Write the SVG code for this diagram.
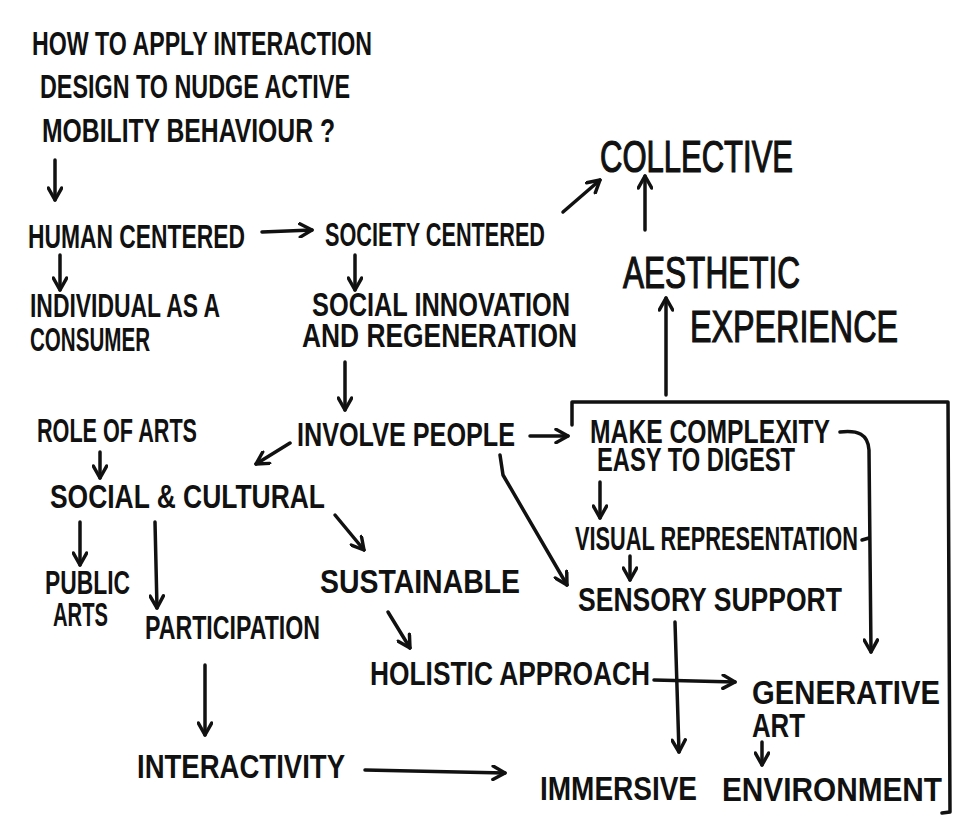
<svg xmlns="http://www.w3.org/2000/svg" width="975" height="818" viewBox="0 0 975 818">
  <style>
    .t { font-family: "Liberation Sans", "DejaVu Sans", sans-serif; font-weight: 700; font-size: 34px; fill: #111; }
    .big { font-weight: 400; font-size: 44px; stroke: #111; stroke-width: 1.2; }
    .ln { fill: none; stroke: #111; stroke-width: 3.5; stroke-linecap: round; stroke-linejoin: round; }
    .arr { marker-end: url(#head); }
  </style>
  <defs>
    <marker id="head" viewBox="0 0 12 12" refX="10.5" refY="6" markerWidth="16" markerHeight="16" markerUnits="userSpaceOnUse" orient="auto">
      <path d="M1.5,1 L10.5,6 L1.5,11" fill="none" stroke="#111" stroke-width="2.6" stroke-linecap="round" stroke-linejoin="round"/>
    </marker>
  </defs>
  <rect width="975" height="818" fill="#fff"/>

  <!-- connectors -->
  <g id="connectors">
    <path class="ln arr" d="M55,160 L55,200"/>
    <path class="ln arr" d="M262,232 L312,230"/>
    <path class="ln arr" d="M563,212 L600,180"/>
    <path class="ln arr" d="M645,230 L645,176"/>
    <path class="ln arr" d="M666,395 L666,298"/>
    <path class="ln arr" d="M60,255 L60,290"/>
    <path class="ln arr" d="M355,255 L355,290"/>
    <path class="ln arr" d="M345,362 L345,410"/>
    <path class="ln arr" d="M530,436 L568,436"/>
    <!-- frame around the design principles -->
    <path class="ln" d="M572,425 L572,402 L948,402 L950,812 L942,813"/>
    <path class="ln arr" d="M840,432 C858,430 868,434 869,450 L871,652"/>
    <path class="ln arr" d="M600,482 L600,518"/>
    <path class="ln" d="M862,540 L869,538"/>
    <path class="ln arr" d="M630,556 L630,580"/>
    <path class="ln arr" d="M675,622 L679,752"/>
    <path class="ln arr" d="M500,455 L503,475 L567,585"/>
    <path class="ln arr" d="M290,443 L256,464"/>
    <path class="ln arr" d="M100,452 L100,478"/>
    <path class="ln arr" d="M80,522 L80,565"/>
    <path class="ln arr" d="M155,522 L157,608"/>
    <path class="ln arr" d="M335,515 L364,550"/>
    <path class="ln arr" d="M388,612 L410,648"/>
    <path class="ln arr" d="M654,680 L735,682"/>
    <path class="ln arr" d="M762,742 L762,765"/>
    <path class="ln arr" d="M205,665 L205,735"/>
    <path class="ln arr" d="M365,770 L505,773"/>
  </g>

  <g id="question">
    <text class="t" x="32" y="55" font-size="34" textLength="340" lengthAdjust="spacingAndGlyphs">HOW TO APPLY INTERACTION</text>
    <text class="t" x="40" y="98" font-size="32" textLength="310" lengthAdjust="spacingAndGlyphs">DESIGN TO NUDGE ACTIVE</text>
    <text class="t" x="42" y="142" font-size="32" textLength="293" lengthAdjust="spacingAndGlyphs">MOBILITY BEHAVIOUR ?</text>
  </g>
  <g id="human-centered">
    <text class="t" x="28" y="248" textLength="217" lengthAdjust="spacingAndGlyphs">HUMAN CENTERED</text>
  </g>
  <g id="society-centered">
    <text class="t" x="325" y="246" textLength="220" lengthAdjust="spacingAndGlyphs">SOCIETY CENTERED</text>
  </g>
  <g id="collective">
    <text class="t big" x="600" y="172" textLength="193" lengthAdjust="spacingAndGlyphs">COLLECTIVE</text>
  </g>
  <g id="aesthetic-experience">
    <text class="t big" x="623" y="288" textLength="177" lengthAdjust="spacingAndGlyphs">AESTHETIC</text>
    <text class="t big" x="690" y="342" textLength="208" lengthAdjust="spacingAndGlyphs">EXPERIENCE</text>
  </g>
  <g id="individual-consumer">
    <text class="t" x="30" y="317" font-size="27" textLength="190" lengthAdjust="spacingAndGlyphs">INDIVIDUAL AS A</text>
    <text class="t" x="30" y="351" font-size="27" textLength="120" lengthAdjust="spacingAndGlyphs">CONSUMER</text>
  </g>
  <g id="social-innovation">
    <text class="t" x="312" y="316" font-size="26" textLength="258" lengthAdjust="spacingAndGlyphs">SOCIAL INNOVATION</text>
    <text class="t" x="302" y="347" font-size="26" textLength="275" lengthAdjust="spacingAndGlyphs">AND REGENERATION</text>
  </g>
  <g id="role-of-arts">
    <text class="t" x="37" y="442" font-size="30" textLength="160" lengthAdjust="spacingAndGlyphs">ROLE OF ARTS</text>
  </g>
  <g id="involve-people">
    <text class="t" x="297" y="446" font-size="30" textLength="218" lengthAdjust="spacingAndGlyphs">INVOLVE PEOPLE</text>
  </g>
  <g id="make-complexity">
    <text class="t" x="590" y="443" font-size="26" textLength="240" lengthAdjust="spacingAndGlyphs">MAKE COMPLEXITY</text>
    <text class="t" x="597" y="471" font-size="25" textLength="198" lengthAdjust="spacingAndGlyphs">EASY TO DIGEST</text>
  </g>
  <g id="visual-representation">
    <text class="t" x="575" y="550" font-size="27" textLength="283" lengthAdjust="spacingAndGlyphs">VISUAL REPRESENTATION</text>
  </g>
  <g id="sensory-support">
    <text class="t" x="578" y="611" font-size="32" textLength="264" lengthAdjust="spacingAndGlyphs">SENSORY SUPPORT</text>
  </g>
  <g id="social-cultural">
    <text class="t" x="50" y="508" font-size="32" textLength="275" lengthAdjust="spacingAndGlyphs">SOCIAL &amp; CULTURAL</text>
  </g>
  <g id="public-arts">
    <text class="t" x="45" y="594" font-size="28" textLength="85" lengthAdjust="spacingAndGlyphs">PUBLIC</text>
    <text class="t" x="53" y="626" font-size="28" textLength="55" lengthAdjust="spacingAndGlyphs">ARTS</text>
  </g>
  <g id="participation">
    <text class="t" x="145" y="639" font-size="28" textLength="175" lengthAdjust="spacingAndGlyphs">PARTICIPATION</text>
  </g>
  <g id="sustainable">
    <text class="t" x="320" y="593" font-size="36" textLength="200" lengthAdjust="spacingAndGlyphs">SUSTAINABLE</text>
  </g>
  <g id="holistic-approach">
    <text class="t" x="370" y="685" font-size="36" textLength="280" lengthAdjust="spacingAndGlyphs">HOLISTIC APPROACH</text>
  </g>
  <g id="generative-art">
    <text class="t" x="752" y="704" font-size="33" textLength="188" lengthAdjust="spacingAndGlyphs">GENERATIVE</text>
    <text class="t" x="752" y="737" font-size="31" textLength="53" lengthAdjust="spacingAndGlyphs">ART</text>
  </g>
  <g id="interactivity">
    <text class="t" x="137" y="778" font-size="32" textLength="208" lengthAdjust="spacingAndGlyphs">INTERACTIVITY</text>
  </g>
  <g id="immersive-environment">
    <text class="t" x="540" y="800" font-size="38" textLength="157" lengthAdjust="spacingAndGlyphs">IMMERSIVE</text>
    <text class="t" x="722" y="801" font-size="38" textLength="220" lengthAdjust="spacingAndGlyphs">ENVIRONMENT</text>
  </g>
</svg>
